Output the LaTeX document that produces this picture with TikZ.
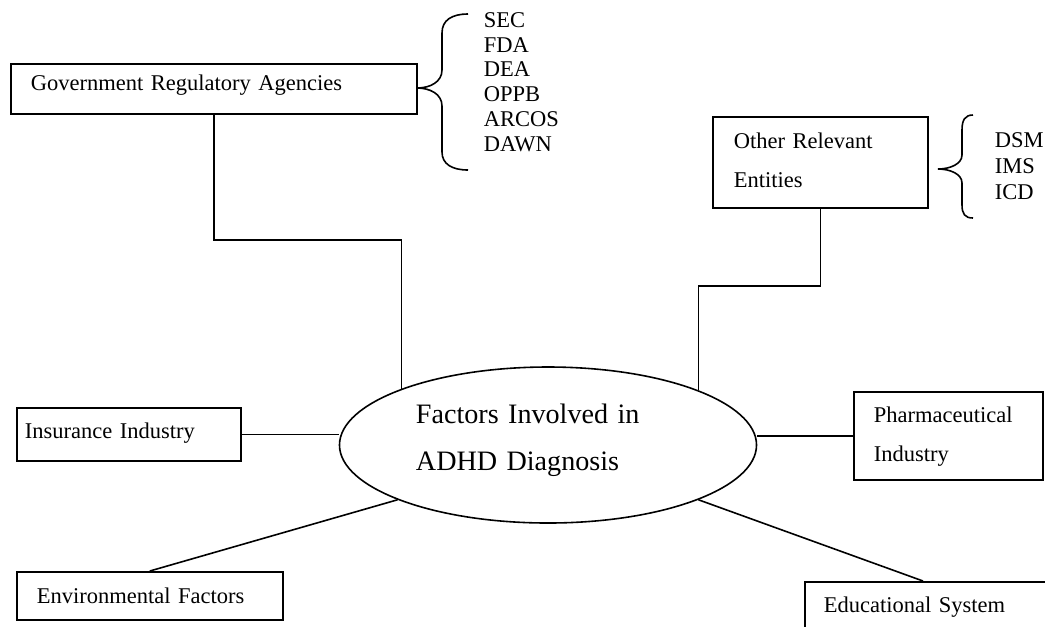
\documentclass[tikz,border=0pt]{standalone}
\usepackage{fontspec}
\setmainfont{Liberation Serif}
\usepackage{color}
\usetikzlibrary{shapes.geometric}

\begin{document}
\begin{tikzpicture}[x=0.5333pt, y=-0.5333pt, line width=0.85pt,
  factor/.style={rectangle, draw=black, inner ysep=0pt, align=left, anchor=north west, font=\fontsize{12pt}{20.8pt}\selectfont},
  sublist/.style={inner sep=0pt, align=left, anchor=base west, font=\fontsize{12pt}{13.33pt}\selectfont}]

\useasboundingbox (0,0) rectangle (1045,626);

\node(diag) [ellipse, draw=black, minimum width=222.4pt, minimum height=83.2pt, inner sep=0pt, text width=140.8pt, text height=16pt, text depth=39.47pt, align=left, font=\fontsize{15pt}{25.07pt}\selectfont] at (548,445) {Factors Involved in\\ADHD Diagnosis};

\node(gov) [factor, inner xsep=10.67pt, text width=195.2pt, text height=14.4pt, text depth=12.27pt] at (10,63) {Government Regulatory Agencies};
\node(other) [factor, inner xsep=11.2pt, text width=92.27pt, text height=17.07pt, text depth=31.47pt] at (712,116) {Other Relevant\\Entities};
\node(ins) [factor, inner xsep=4.27pt, text width=110.93pt, text height=16.53pt, text depth=11.73pt] at (16,407) {Insurance Industry};
\node(pharma) [factor, inner xsep=10.67pt, text width=79.47pt, text height=16.53pt, text depth=30.4pt] at (853,391) {Pharmaceutical\\Industry};
\node(env) [factor, inner xsep=10.67pt, text width=120.53pt, text height=17.07pt, text depth=8.53pt] at (16,571) {Environmental Factors};
\node(edu) [factor, inner xsep=10.13pt, text width=139.73pt, text height=16.53pt, text depth=15.47pt] at (804,581) {Educational System};

\node(seclist) [sublist, text width=42.67pt] at (483,27) {SEC\\FDA\\DEA\\OPPB\\ARCOS\\DAWN};
\node(dsmlist) [sublist, text width=26.67pt, font=\fontsize{12pt}{13.87pt}\selectfont] at (994,147) {DSM\\IMS\\ICD};

% curly braces in front of the two lists
\draw (468,14) .. controls (452,14) and (442,20) .. (442,33) -- (442,70) .. controls (442,82) and (430,88) .. (417,88) .. controls (430,88) and (442,94) .. (442,106) -- (442,152) .. controls (442,164) and (452,170) .. (468,170);
\draw (973,115) .. controls (965,115) and (962,120) .. (962,130) -- (962,155) .. controls (962,164) and (950,169) .. (938,169) .. controls (950,169) and (962,174) .. (962,183) -- (962,205) .. controls (962,214) and (965,218) .. (973,218);

\coordinate(govfoot) at (diag.159.6);
\coordinate(otherfoot) at (diag.20.4);
\draw (gov.south) |- (govfoot |- 0,240) -- (govfoot);
\draw (other.south) |- (otherfoot |- 0,286) -- (otherfoot);
\draw (ins.east) -- (ins.east -| diag.west);
\draw (diag.east |- pharma.west) -- (pharma.west);
\draw (env.north) -- (diag.200.9);
\draw (diag.-20.4) -- ([xshift=63.47pt]edu.north west);

\end{tikzpicture}
\end{document}
